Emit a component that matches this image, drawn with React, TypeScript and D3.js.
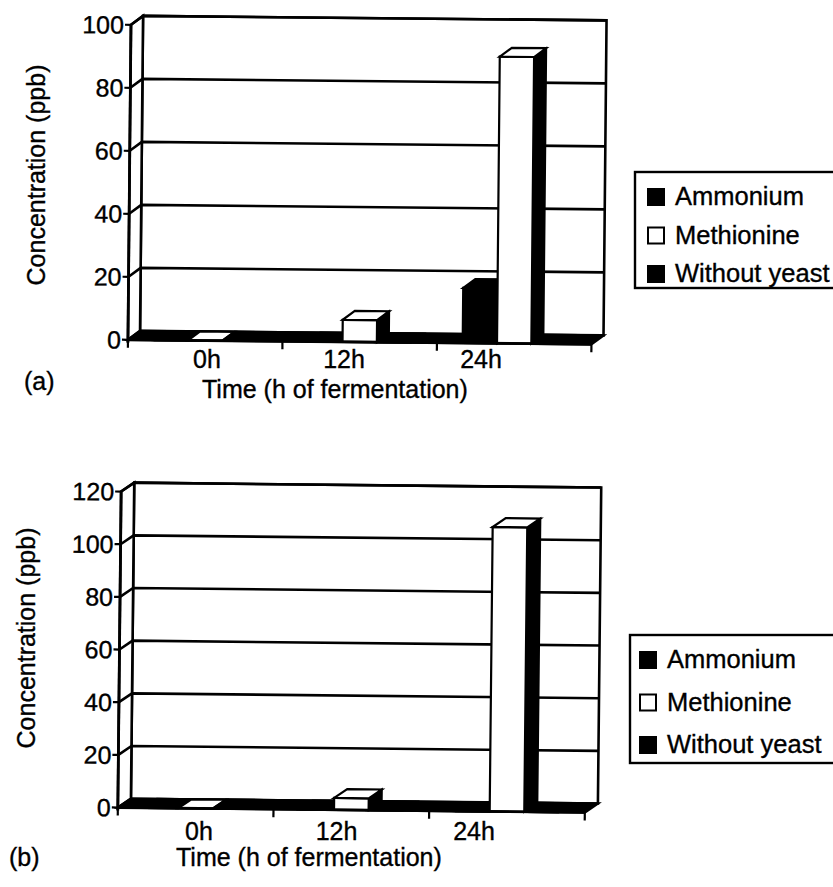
import { useEffect, useRef } from 'react';
import * as d3 from 'd3';

// categories and series
const categories = ['0h', '12h', '24h'];
const seriesNames = ['Ammonium', 'Methionine', 'Without yeast'];
const seriesFill = ['#000', '#fff', '#000'];

// panel (a) values, ppb
const ammoniumA = [0, 0, 17.5];
const methionineA = [0, 7, 91];
const withoutYeastA = [0, 0, 0];
const ticksA = [0, 20, 40, 60, 80, 100];

// panel (b) values, ppb
const ammoniumB = [0, 0, 0];
const methionineB = [0, 4.5, 108];
const withoutYeastB = [0, 0, 0];
const ticksB = [0, 20, 40, 60, 80, 100, 120];

const FONT = '"Liberation Sans", Arial, Helvetica, sans-serif';

type Panel = {
  tag: string;
  values: number[][];
  ticks: number[];
  x0: number; x1: number; yBottom: number; yTop: number;
  dx: number; dy: number;
  rot: number; cx: number; cy: number;
  labelRange: [number, number]; labelY: number;
  titleX: number; titleY: number;
  yTitleX: number; yTitleY: number;
  tagX: number; tagY: number;
  legend: { x: number; y: number; h: number; sq: number; tx: number; first: number; step: number };
};

// scanned print looks a bit heavier than plain text
const label = (sel: any) =>
  sel.attr('font-family', FONT).attr('font-size', 25)
    .attr('fill', '#000').attr('stroke', '#000').attr('stroke-width', 0.35);

function drawPanel(svg: any, p: Panel) {
  const max = d3.max(p.ticks) as number;
  const y = d3.scaleLinear().domain([0, max]).range([p.yBottom, p.yTop]);
  const x = d3.scaleBand<string>().domain(categories).range([p.x0, p.x1]);
  const xs = d3.scaleBand<string>().domain(seriesNames)
    .range([0, x.bandwidth()]).paddingInner(0).paddingOuter(0.75);

  // simple oblique projection: front x, value, depth fraction
  const P = (px: number, v: number, d: number) => [px + d * p.dx, y(v) + d * p.dy];
  const poly = (pts: number[][]) => pts.map(q => q.join(',')).join(' ');

  // the scan is slightly tilted
  const g = svg.append('g').attr('transform', `rotate(${p.rot} ${p.cx} ${p.cy})`);

  // back wall
  g.append('polygon')
    .attr('points', poly([P(p.x0, 0, 1), P(p.x1, 0, 1), P(p.x1, max, 1), P(p.x0, max, 1)]))
    .attr('fill', '#fff').attr('stroke', '#000').attr('stroke-width', 2.6);
  // left wall
  g.append('polygon')
    .attr('points', poly([P(p.x0, 0, 0), P(p.x0, 0, 1), P(p.x0, max, 1), P(p.x0, max, 0)]))
    .attr('fill', '#fff').attr('stroke', '#000').attr('stroke-width', 2.6);

  // gridlines on side + back wall
  p.ticks.filter(t => t > 0).forEach(t => {
    g.append('polyline')
      .attr('points', poly([P(p.x0, t, 0), P(p.x0, t, 1), P(p.x1, t, 1)]))
      .attr('fill', 'none').attr('stroke', '#000').attr('stroke-width', 2.6);
  });

  // floor
  g.append('polygon')
    .attr('points', poly([P(p.x0, 0, 0), P(p.x1, 0, 0), P(p.x1, 0, 1), P(p.x0, 0, 1)]))
    .attr('fill', '#000').attr('stroke', '#000').attr('stroke-width', 2.5);

  // bars
  categories.forEach((c, ci) => {
    seriesNames.forEach((s, si) => {
      const v = p.values[si][ci];
      const bx = (x(c) as number) + (xs(s) as number);
      const w = xs.bandwidth();
      const fill = seriesFill[si];
      // side
      g.append('polygon')
        .attr('points', poly([P(bx + w, 0, 0), P(bx + w, 0, 1), P(bx + w, v, 1), P(bx + w, v, 0)]))
        .attr('fill', '#000').attr('stroke', '#000').attr('stroke-width', 2);
      // front
      g.append('polygon')
        .attr('points', poly([P(bx, 0, 0), P(bx + w, 0, 0), P(bx + w, v, 0), P(bx, v, 0)]))
        .attr('fill', fill).attr('stroke', '#000').attr('stroke-width', 2.2);
      // top
      g.append('polygon')
        .attr('points', poly([P(bx, v, 0), P(bx + w, v, 0), P(bx + w, v, 1), P(bx, v, 1)]))
        .attr('fill', fill).attr('stroke', '#000').attr('stroke-width', 2.2);
    });
  });

  // value axis
  g.append('line')
    .attr('x1', p.x0).attr('x2', p.x0)
    .attr('y1', y(0) + 3).attr('y2', y(max))
    .attr('stroke', '#000').attr('stroke-width', 2.8);
  p.ticks.forEach(t => {
    g.append('line')
      .attr('x1', p.x0 - 6).attr('x2', p.x0)
      .attr('y1', y(t)).attr('y2', y(t))
      .attr('stroke', '#000').attr('stroke-width', 2.2);
    g.append('text')
      .attr('x', p.x0 - 7).attr('y', y(t)).attr('dy', '0.36em')
      .attr('text-anchor', 'end')
      .call(label)
      .text(t);
  });

  // category axis front edge and ticks
  g.append('line')
    .attr('x1', p.x0).attr('x2', p.x1)
    .attr('y1', y(0)).attr('y2', y(0))
    .attr('stroke', '#000').attr('stroke-width', 2.8);
  const bounds = categories.map(c => x(c) as number).concat([p.x1]);
  bounds.forEach(b => {
    g.append('line')
      .attr('x1', b).attr('x2', b)
      .attr('y1', y(0)).attr('y2', y(0) + 8)
      .attr('stroke', '#000').attr('stroke-width', 2.2);
  });

  // category labels
  const lx = d3.scalePoint<string>().domain(categories).range(p.labelRange);
  categories.forEach(c => {
    svg.append('text')
      .attr('x', lx(c)).attr('y', p.labelY)
      .attr('text-anchor', 'middle')
      .call(label)
      .text(c);
  });

  svg.append('text')
    .attr('x', p.titleX).attr('y', p.titleY)
    .call(label)
    .text('Time (h of fermentation)');

  svg.append('text')
    .attr('transform', `translate(${p.yTitleX},${p.yTitleY}) rotate(-90)`)
    .attr('text-anchor', 'middle')
    .call(label)
    .text('Concentration (ppb)');

  svg.append('text')
    .attr('x', p.tagX).attr('y', p.tagY)
    .call(label)
    .text(p.tag);

  // legend
  const L = p.legend;
  svg.append('rect')
    .attr('x', L.x).attr('y', L.y).attr('width', 240).attr('height', L.h)
    .attr('fill', '#fff').attr('stroke', '#000').attr('stroke-width', 2.4);
  seriesNames.forEach((s, i) => {
    const base = L.first + i * L.step;
    svg.append('rect')
      .attr('x', L.sq).attr('y', base - 16).attr('width', 16).attr('height', 16)
      .attr('fill', seriesFill[i]).attr('stroke', '#000').attr('stroke-width', 2);
    svg.append('text')
      .attr('x', L.tx).attr('y', base)
      .call(label)
      .attr('font-size', 25.5)
      .text(s);
  });
}

export default function App() {
  const svgRef = useRef<SVGSVGElement>(null);

  useEffect(() => {
    if (!svgRef.current) return;
    const svg = d3.select(svgRef.current);
    svg.selectAll('*').remove();

    svg.append('rect').attr('width', 833).attr('height', 887).attr('fill', '#fff');

    drawPanel(svg, {
      tag: '(a)',
      values: [ammoniumA, methionineA, withoutYeastA],
      ticks: ticksA,
      x0: 129.5, x1: 593, yBottom: 342, yTop: 27,
      dx: 12, dy: -9,
      rot: 0.55, cx: 360, cy: 180,
      labelRange: [207, 481], labelY: 368,
      titleX: 202, titleY: 398,
      yTitleX: 45, yTitleY: 175,
      tagX: 24, tagY: 390,
      legend: { x: 635, y: 172, h: 116, sq: 648, tx: 675, first: 205, step: 38.5 },
    });

    drawPanel(svg, {
      tag: '(b)',
      values: [ammoniumB, methionineB, withoutYeastB],
      ticks: ticksB,
      x0: 119.5, x1: 586.5, yBottom: 810, yTop: 494,
      dx: 13, dy: -9,
      rot: 0.6, cx: 355, cy: 650,
      labelRange: [199, 474], labelY: 840,
      titleX: 176, titleY: 866,
      yTitleX: 35, yTitleY: 638,
      tagX: 9, tagY: 866,
      legend: { x: 630, y: 635, h: 128, sq: 640, tx: 667, first: 668, step: 42.5 },
    });
  }, []);

  return (
    <svg
      ref={svgRef}
      width={833}
      height={887}
      viewBox="0 0 833 887"
      style={{ position: 'absolute', left: 0, top: 0, display: 'block' }}
    />
  );
}
